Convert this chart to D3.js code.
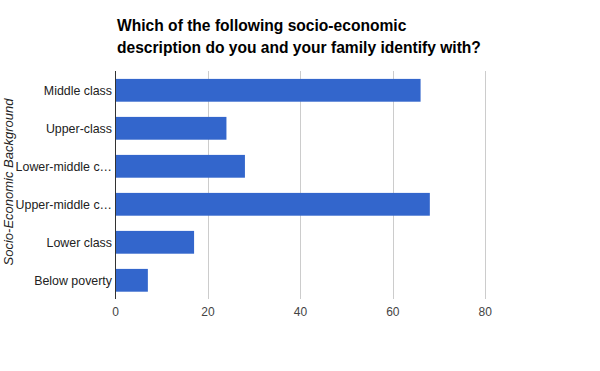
<!DOCTYPE html>
<html><head><meta charset="utf-8">
<script src="https://cdn.jsdelivr.net/npm/d3@7"></script>
<style>body{margin:0;background:#fff}svg{display:block}</style>
</head><body>
<svg id="c" width="600" height="371"></svg>
<script>
const categories = ["Middle class","Upper-class","Lower-middle c…","Upper-middle c…","Lower class","Below poverty"];
const values = [66,24,28,68,17,7];
const xTicks = [0,20,40,60,80];
const titleLines = ["Which of the following socio-economic","description do you and your family identify with?"];
const yTitle = "Socio-Economic Background";

const svg = d3.select("#c");
const FONT = "'Liberation Sans', Arial, sans-serif";
const x = d3.scaleLinear().domain([0,80]).range([115.5,485.3]);
const y = d3.scaleBand().domain(categories).range([71.3,299.3]).paddingInner(0.4).paddingOuter(0.2);

svg.append("rect").attr("width",600).attr("height",371).attr("fill","#fff");

// gridlines
svg.append("g").selectAll("line").data(xTicks.filter(d=>d>0)).join("line")
  .attr("x1",d=>Math.round(x(d))+0.5).attr("x2",d=>Math.round(x(d))+0.5)
  .attr("y1",71).attr("y2",299).attr("stroke","#cccccc").attr("stroke-width",1);

// bars
svg.append("g").selectAll("rect").data(values).join("rect")
  .attr("x",x(0)).attr("y",(d,i)=>y(categories[i]))
  .attr("width",d=>x(d)-x(0)).attr("height",y.bandwidth())
  .attr("fill","#3366cc");

// axis line
svg.append("line").attr("x1",115.5).attr("x2",115.5).attr("y1",71).attr("y2",299)
  .attr("stroke","#333").attr("stroke-width",1);

// x tick labels
svg.append("g").selectAll("text").data(xTicks).join("text")
  .attr("x",d=>x(d)).attr("y",316).attr("text-anchor","middle")
  .attr("font-family",FONT).attr("font-size",12).attr("fill","#444")
  .text(d=>d);

// y labels
svg.append("g").selectAll("text").data(categories).join("text")
  .attr("x",112).attr("y",d=>y(d)+y.bandwidth()/2+4.5).attr("text-anchor","end")
  .attr("font-family",FONT).attr("font-size",12.4).attr("fill","#222")
  .text(d=>d);

// y title
svg.append("text").attr("transform","translate(12.5,182) rotate(-90)")
  .attr("text-anchor","middle").attr("font-family",FONT)
  .attr("font-size",13).attr("font-style","italic").attr("fill","#222").text(yTitle);

// title
svg.append("g").selectAll("text").data(titleLines).join("text")
  .attr("x",117).attr("y",(d,i)=>31+i*22)
  .attr("font-family",FONT).attr("font-weight","bold")
  .attr("font-size",15.6).attr("fill","#000").text(d=>d);
</script>
</body></html>
